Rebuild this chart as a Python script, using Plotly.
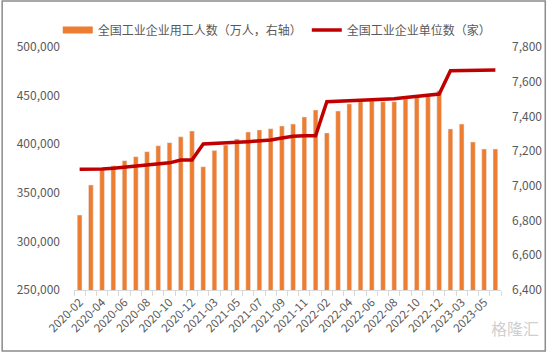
import plotly.graph_objects as go

months = [
    "2020-02", "2020-03", "2020-04", "2020-05", "2020-06", "2020-07", "2020-08",
    "2020-09", "2020-10", "2020-11", "2020-12",
    "2021-02", "2021-03", "2021-04", "2021-05", "2021-06", "2021-07", "2021-08",
    "2021-09", "2021-10", "2021-11", "2021-12",
    "2022-02", "2022-03", "2022-04", "2022-05", "2022-06", "2022-07", "2022-08",
    "2022-09", "2022-10", "2022-11", "2022-12",
    "2023-02", "2023-03", "2023-04", "2023-05", "2023-06",
]

# 全国工业企业用工人数（万人，右轴）
workers = [
    6832, 7005, 7091, 7116, 7145, 7168, 7197, 7231, 7249, 7283, 7316,
    7110, 7203, 7235, 7270, 7310, 7322, 7329, 7345, 7356, 7397, 7437,
    7305, 7431, 7472, 7485, 7489, 7485, 7485, 7500, 7508, 7514, 7548,
    7328, 7356, 7253, 7212, 7212,
]

# 全国工业企业单位数（家）
enterprises = [
    374200, 374200, 374500, 375200, 376200, 377300, 378300, 379300, 380800, 383700, 383700,
    400200, 400500, 401200, 402000, 402600, 403600, 404300, 406400, 408100, 408700, 408700,
    443700, 444100, 444400, 445000, 445500, 446000, 446800, 448000, 449000, 450300, 451600,
    475600, 475600, 475800, 476100, 476300,
]

tick_labels = [m if i % 2 == 0 else "" for i, m in enumerate(months)]

bar_name = "全国工业企业用工人数（万人，右轴）"
line_name = "全国工业企业单位数（家）"

ORANGE = "#ED7D31"
RED = "#C00000"
GREY = "#595959"
FONT = "Noto Sans CJK SC"

fig = go.Figure()
fig.add_trace(go.Bar(
    x=months, y=workers, name=bar_name, marker_color=ORANGE,
    yaxis="y", showlegend=False,
))
# legend swatch for bars (wide rectangle, as in the reference)
fig.add_trace(go.Scatter(
    x=[None], y=[None], mode="lines", name=bar_name,
    line=dict(color=ORANGE, width=7), yaxis="y",
))
fig.add_trace(go.Scatter(
    x=months, y=enterprises, name=line_name, mode="lines",
    line=dict(color=RED, width=3.5), yaxis="y2",
))

W, H = 554, 352
L, R, T, B = 74, 46, 47, 62
pw, ph = W - L - R, H - T - B

fig.update_layout(
    width=W, height=H,
    margin=dict(l=L, r=R, t=T, b=B),
    paper_bgcolor="white", plot_bgcolor="white",
    font=dict(family=FONT, color=GREY, size=12),
    bargap=0.58,
    showlegend=True,
    legend=dict(
        orientation="h", x=-0.038, xanchor="left", y=1 + 17 / ph, yanchor="middle",
        font=dict(size=12, color=GREY), itemwidth=30, tracegroupgap=0,
        bgcolor="rgba(0,0,0,0)",
    ),
    xaxis=dict(
        type="category", tickmode="array", tickvals=months, ticktext=tick_labels,
        tickangle=-45, tickson="boundaries", ticks="outside", ticklen=5,
        tickcolor="#D9D9D9", showline=True, linecolor="#D9D9D9", linewidth=1,
        showgrid=False, tickfont=dict(size=11.5, color=GREY, family=FONT),
    ),
    yaxis=dict(
        side="right", range=[6400, 7800], dtick=200, tickformat=",",
        showgrid=False, zeroline=False, showline=False, ticks="",
        ticklabelstandoff=10, tickfont=dict(size=12, color=GREY, family=FONT),
    ),
    yaxis2=dict(
        side="left", overlaying="y", range=[250000, 500000], dtick=50000,
        tickformat=",", showgrid=False, zeroline=False, showline=False, ticks="",
        ticklabelstandoff=13, tickfont=dict(size=12, color=GREY, family=FONT),
    ),
    shapes=[dict(
        type="rect", xref="paper", yref="paper",
        x0=-(L - 1) / pw, x1=1 + (R - 1) / pw, y0=-(B - 1) / ph, y1=1 + (T - 1) / ph,
        line=dict(color="#8C8C8C", width=1.5), fillcolor="rgba(0,0,0,0)",
    )],
    annotations=[dict(
        text="格隆汇", xref="paper", yref="paper",
        x=1 + (R - 5) / pw, y=-(B - 10) / ph, xanchor="right", yanchor="bottom",
        showarrow=False, font=dict(size=16, color="#CFCFCF", family=FONT),
    )],
)

fig.write_html("out.html")
